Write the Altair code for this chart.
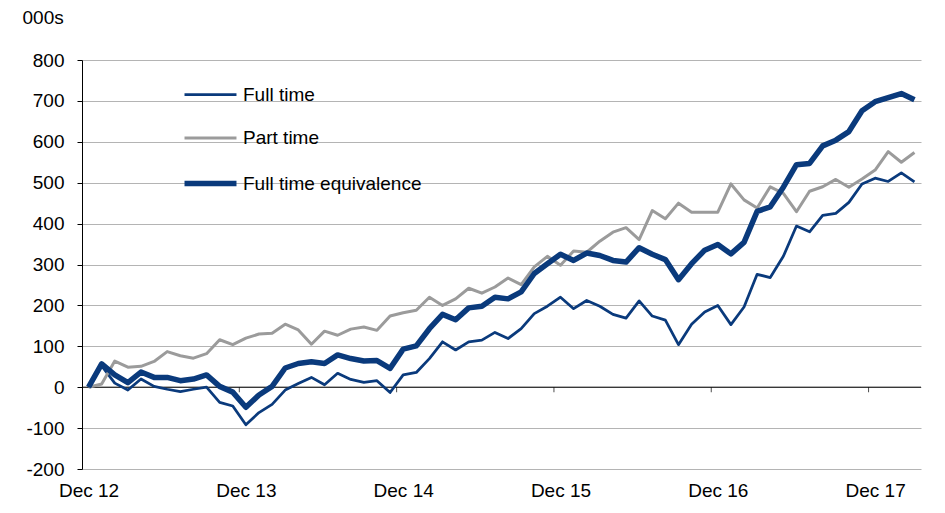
import altair as alt
import pandas as pd

# ---- data (thousands, change since Dec 12) ----
months = pd.date_range("2012-12-01", periods=64, freq="MS").strftime("%b %y").tolist()

full_time = [0, 52, 10, -7, 20, 2, -5, -11, -5, 0,
             -37, -46, -92, -62, -42, -7, 9, 24, 6, 34,
             19, 12, 16, -13, 30, 36, 70, 111, 91, 111,
             115, 134, 119, 143, 180, 198, 220, 192, 212, 198,
             178, 169, 211, 174, 164, 104, 154, 184, 200, 153,
             196, 276, 268, 320, 394, 380, 420, 425, 452, 497,
             511, 503, 524, 502]

part_time = [0, 8, 64, 49, 51, 63, 87, 77, 71, 82,
             116, 104, 120, 130, 132, 154, 140, 105, 137, 127,
             142, 147, 139, 174, 182, 188, 220, 200, 216, 242,
             230, 245, 267, 251, 294, 320, 298, 333, 330, 357,
             379, 390, 361, 432, 412, 450, 428, 428, 428, 497,
             458, 438, 490, 474, 429, 479, 490, 508, 489, 509,
             531, 576, 550, 574]

fte = [0, 57, 30, 11, 37, 24, 24, 16, 20, 30,
       2, -12, -49, -19, 2, 47, 58, 62, 58, 79,
       70, 64, 65, 46, 93, 101, 143, 178, 165, 194,
       198, 220, 216, 233, 278, 302, 325, 310, 328, 322,
       310, 306, 341, 325, 312, 263, 302, 335, 349, 326,
       354, 430, 441, 489, 544, 547, 590, 604, 625, 676,
       698, 708, 718, 703]

series_names = ["Full time", "Part time", "Full time equivalence"]
tick_labels = ["Dec 12", "Dec 13", "Dec 14", "Dec 15", "Dec 16", "Dec 17"]
y_ticks = list(range(-200, 801, 100))

# ---- tables ----
rows = []
for name, vals in zip(series_names, [full_time, part_time, fte]):
    for i, v in enumerate(vals):
        rows.append({"idx": i, "month": months[i], "series": name, "value": v})
df = pd.DataFrame(rows)

label_pos = [months.index(t) for t in tick_labels]
boundary_df = pd.DataFrame({"b": [p - 0.5 for p in label_pos[1:]]})
zero_df = pd.DataFrame({"y": [0]})

NAVY = "#0a3a7c"
GREY = "#9b9b9b"
FONT = "Liberation Sans"

label_expr = "[" + ",".join(f"'{t}'" for t in tick_labels) + "][round(datum.value / 12)]"

x_scale = alt.Scale(domain=[-0.5, len(months) - 0.5], nice=False, zero=False)
y_scale = alt.Scale(domain=[-200, 800], nice=False)

legend_kw = dict(
    title=None,
    orient="none",
    legendX=119,
    legendY=25,
    symbolType="M-6,0L6,0",
    symbolSize=75,
    labelFontSize=19,
    labelFont=FONT,
    labelColor="black",
    labelOffset=23,
    labelLimit=0,
    rowPadding=23.5,
)

lines = alt.Chart(df).mark_line(strokeJoin="round").encode(
    x=alt.X(
        "idx:Q",
        scale=x_scale,
        axis=alt.Axis(
            values=label_pos,
            labelExpr=label_expr,
            grid=False,
            ticks=False,
            domain=False,
            labelFontSize=19,
            labelFont=FONT,
            labelColor="black",
            labelPadding=12,
            labelFlush=False,
            title=None,
        ),
    ),
    y=alt.Y(
        "value:Q",
        scale=y_scale,
        axis=alt.Axis(
            values=y_ticks,
            labelExpr="'' + datum.value",
            grid=True,
            gridColor="#b4b4b4",
            gridWidth=1,
            domain=True,
            domainColor="black",
            domainWidth=1,
            ticks=True,
            tickColor="black",
            tickSize=5,
            labelPadding=13,
            labelFontSize=19,
            labelFont=FONT,
            labelColor="black",
            title="000s",
            titleAngle=0,
            titleAlign="left",
            titleBaseline="alphabetic",
            titleX=-60,
            titleY=-37,
            titleFontSize=19,
            titleFont=FONT,
            titleFontWeight="normal",
            titleColor="black",
        ),
    ),
    color=alt.Color(
        "series:N",
        sort=series_names,
        scale=alt.Scale(domain=series_names, range=[NAVY, GREY, NAVY]),
        legend=alt.Legend(**legend_kw),
    ),
    strokeWidth=alt.StrokeWidth(
        "series:O",
        sort=series_names,
        scale=alt.Scale(type="ordinal", domain=series_names, range=[2.75, 3, 5.5]),
        legend=alt.Legend(**legend_kw),
    ),
    order=alt.Order("idx:Q"),
    detail="series:N",
)

zero_line = alt.Chart(zero_df).mark_rule(color="black", strokeWidth=1).encode(
    y=alt.Y("y:Q", scale=y_scale)
)

ticks = alt.Chart(boundary_df).mark_tick(
    orient="vertical", color="black", size=5, thickness=1, yOffset=2.5
).encode(
    x=alt.X("b:Q", scale=x_scale),
    y=alt.datum(0, scale=y_scale),
)

chart = alt.layer(zero_line, ticks, lines).properties(
    width=839,
    height=409,
    autosize=alt.AutoSizeParams(type="none"),
    padding={"left": 74, "top": 52, "right": 14, "bottom": 44},
    background="white",
).configure_view(strokeWidth=0).configure_text(font=FONT)

chart.save("out.html", embed_options={"renderer": "svg", "actions": False})
